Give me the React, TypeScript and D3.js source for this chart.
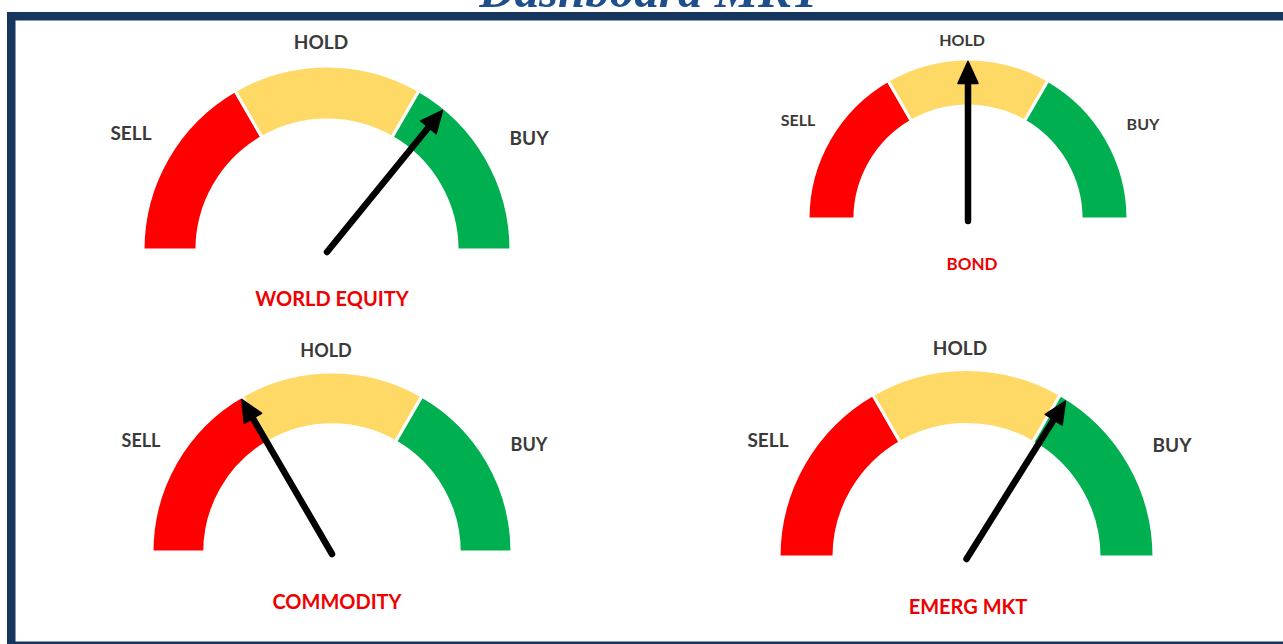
import React from "react";
import * as d3 from "d3";

// ---- data ----
const gaugeNames = ["WORLD EQUITY", "BOND", "COMMODITY", "EMERG MKT"];
const needleValues = [72, 50, 33, 68]; // 0 = full SELL, 100 = full BUY
const zoneLabels = ["SELL", "HOLD", "BUY"];
const zoneBreaks = [0, 33.33, 66.67, 100];
const zoneColors = ["#FF0000", "#FFD966", "#00B050"];
const titleText = "Dashboard MKT";

// ---- layout ----
const W = 1283;
const H = 644;
const layout = [
  { cx: 327, cy: 250, r: 184, sell: [131, 140], hold: [321, 49], buy: [529, 145], title: [332, 306], fs: 19, tfs: 20 },
  { cx: 968, cy: 219, r: 160, sell: [798, 126], hold: [962, 46], buy: [1143, 130], title: [972, 270], fs: 16, tfs: 17 },
  { cx: 332, cy: 552, r: 180, sell: [141, 447], hold: [326, 357], buy: [529, 451], title: [337, 609], fs: 18, tfs: 20 },
  { cx: 966.5, cy: 557, r: 187.5, sell: [768, 447], hold: [960, 355], buy: [1172, 452], title: [968, 614], fs: 19, tfs: 20 },
];

const valueToAngle = d3.scaleLinear().domain([0, 100]).range([-Math.PI / 2, Math.PI / 2]);

function Gauge({ i }: { i: number }) {
  const g = layout[i];
  const inner = g.r * 0.707;
  const arc = d3.arc<any>().innerRadius(inner).outerRadius(g.r);
  const segs = zoneColors.map((c, k) => ({
    color: c,
    startAngle: valueToAngle(zoneBreaks[k]),
    endAngle: valueToAngle(zoneBreaks[k + 1]),
  }));
  const a = valueToAngle(needleValues[i]);
  const L = g.r * 0.985;
  const head = 22;
  const halfW = 10;
  const ux = Math.sin(a);
  const uy = -Math.cos(a);
  const tip = [g.cx + L * ux, g.cy + L * uy];
  const base = [g.cx + (L - head) * ux, g.cy + (L - head) * uy];
  const px = -uy;
  const py = ux;
  const headPts = [
    tip,
    [base[0] + halfW * px, base[1] + halfW * py],
    [base[0] - halfW * px, base[1] - halfW * py],
  ];
  const labelPos = [g.sell, g.hold, g.buy];
  const font = "Lato, 'Open Sans', sans-serif";
  return (
    <g>
      <g transform={`translate(${g.cx},${g.cy})`}>
        {segs.map((s, k) => (
          <path key={k} d={arc(s) as string} fill={s.color} stroke="#fff" strokeWidth={3} strokeLinejoin="miter" />
        ))}
      </g>
      <line
        x1={g.cx}
        y1={g.cy + 2}
        x2={base[0] + 2 * ux}
        y2={base[1] + 2 * uy}
        stroke="#000"
        strokeWidth={6.5}
        strokeLinecap="round"
      />
      <polygon points={headPts.map((p) => p.join(",")).join(" ")} fill="#000" stroke="#000" strokeWidth={1.5} strokeLinejoin="round" />
      {zoneLabels.map((t, k) => (
        <text
          key={t}
          x={labelPos[k][0]}
          y={labelPos[k][1]}
          textAnchor="middle"
          fontFamily={font}
          fontWeight={700}
          fontSize={g.fs}
          fill="#3a3a3a"
        >
          {t}
        </text>
      ))}
      <text
        x={g.title[0]}
        y={g.title[1]}
        textAnchor="middle"
        fontFamily={font}
        fontWeight={700}
        fontSize={g.tfs}
        fill="#EE0000"
      >
        {gaugeNames[i]}
      </text>
    </g>
  );
}

export default function App() {
  const navy = "#17365D";
  return (
    <div style={{ position: "absolute", left: 0, top: 0 }}>
      <svg width={W} height={H} viewBox={`0 0 ${W} ${H}`} style={{ display: "block", background: "#fff" }}>
        <rect x={0} y={0} width={W} height={H} fill="#fff" />
        {/* frame */}
        <rect x={7} y={12} width={W - 7} height={8.5} fill={navy} />
        <rect x={7} y={12} width={8.5} height={H - 12} fill={navy} />
        <rect x={7} y={641.5} width={W - 7} height={2.5} fill={navy} />
        <text
          x={650}
          y={7}
          textAnchor="middle"
          fontFamily="'Liberation Serif', 'DejaVu Serif', serif"
          fontStyle="italic"
          fontWeight={700}
          fontSize={49}
          fill="#1F4E8C"
        >
          {titleText}
        </text>
        {layout.map((_, i) => (
          <Gauge key={i} i={i} />
        ))}
      </svg>
    </div>
  );
}
